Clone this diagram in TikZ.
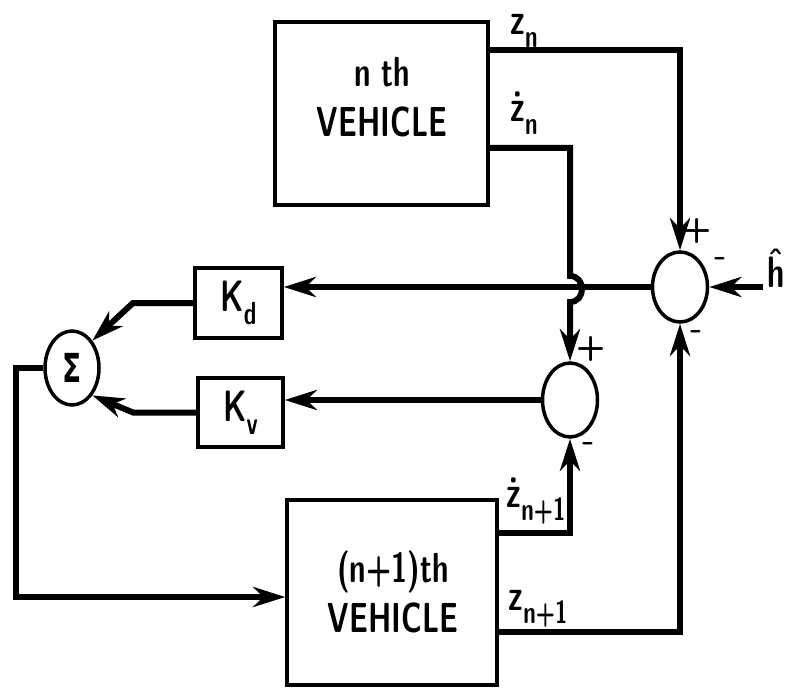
\documentclass[tikz,border=0pt]{standalone}
\usepackage{fontspec}
\newfontfamily\dvs{DejaVu Sans}
\usetikzlibrary{arrows.meta,shapes.geometric,calc}
\newcommand{\nar}[1]{\scalebox{0.7}[1]{#1}}
\newcommand{\subl}[1]{\raisebox{-0.3em}{\fontsize{32}{34}\selectfont #1}}
\begin{document}
\begin{tikzpicture}[x=1pt,y=-1pt,
  box/.style={draw,line width=3.5pt,inner sep=0pt},
  conn/.style={line width=6pt},
  arr/.style={-{Stealth[length=32pt,width=20pt,inset=10pt]}},
  txt/.style={inner sep=0pt,align=center,font=\fontsize{42}{50}\selectfont\sffamily\bfseries},
  lab/.style={inner sep=0pt,font=\fontsize{44}{46}\selectfont\sffamily\bfseries},
  sgn/.style={inner sep=0pt,font=\fontsize{34}{36}\selectfont\bfseries\sffamily},
  sumc/.style={draw,ellipse,line width=3.5pt,minimum width=55pt,minimum height=70pt,inner sep=0pt}
]
\useasboundingbox (0,0) rectangle (785,690);
% blocks
\node[box,minimum width=213pt,minimum height=183pt] (v1) at (381.5,113.5) {};
\node[txt] (v1t) at (382,97) {\nar{n th}\\\nar{VEHICLE}};
\node[box,minimum width=210pt,minimum height=185pt] (v2) at (392,592.5) {};
\node[txt] (v2t) at (393,592) {\nar{(n+1)th}\\\nar{VEHICLE}};
\node[box,lab,minimum width=87pt,minimum height=70pt] (kd) at (238.5,303) {\nar{K\subl{d}}};
\node[box,lab,minimum width=85pt,minimum height=69pt] (kv) at (240.5,412.5) {\nar{K\subl{v}}};
% summing junctions
\node[sumc] (s1) at (680,287) {};
\node[sumc,minimum height=74pt] (s2) at (570,400) {};
\node[sumc,minimum width=54pt,minimum height=74pt,font=\fontsize{40}{42}\selectfont\dvs\bfseries] (sig) at (72,368) {\nar{Σ}};
% labels
\node[lab] (lzn) at (524,31) {\nar{z\subl{n}}};
\node[lab] (lzdn) at (524,113) {\nar{ż\subl{n}}};
\node[lab] (lzdn1) at (536,501) {\nar{ż\subl{n+1}}};
\node[lab] (lzn1) at (538,609) {\nar{z\subl{n+1}}};
\node[lab] (lh) at (776,268) {\nar{ĥ}};
% signs
\node[sgn] (p1) at (697,231) {+};
\node[sgn] (m1) at (721,262) {-};
\node[sgn] (m2) at (697,335) {-};
\node[sgn] (p2) at (591,349) {+};
\node[sgn] (m3) at (589,447) {-};
% connectors
\draw[conn,arr] (v1.east |- 0,50) -| (s1.north);
\draw[conn,arr] (v1.east |- 0,148) -| (570,276)
  .. controls (586,276) and (586,302) .. (570,302) -- (s2.north);
\draw[conn,arr] (s1.west) -- (s1.west -| kd.east);
\coordinate (jd) at (133,303);
\draw[conn,arr] (kd.west) -- (jd) -- (sig.north east);
\draw[conn,arr] (s2.west) -- (s2.west -| kv.east);
\coordinate (jv) at (133,412.5);
\draw[conn,arr] (kv.west) -- (jv) -- (sig.south east);
\coordinate (fb) at (16,597);
\draw[conn,arr] (sig.west) -| (fb) -- (fb -| v2.west);
\draw[conn,arr] (v2.east |- 0,533) -| (s2.south);
\draw[conn,arr] (v2.east |- 0,632) -| (s1.south);
\coordinate (hs) at (763,287);
\draw[conn,arr] (hs) -- (s1.east);
\end{tikzpicture}
\end{document}
